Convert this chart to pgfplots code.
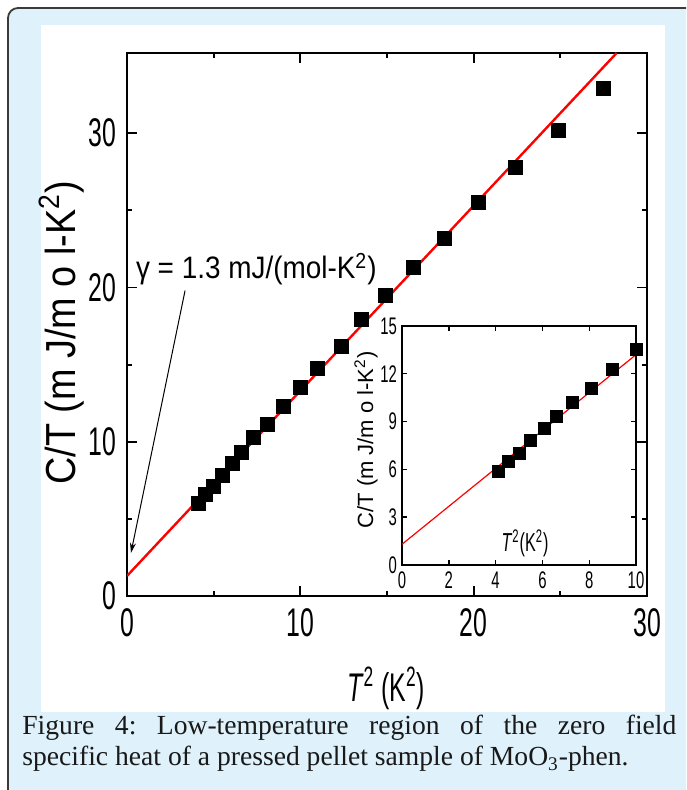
\documentclass[border=0pt]{standalone}
\usepackage{fontspec}
\setmainfont{Liberation Sans}
\newfontfamily\nar[FakeStretch=0.62]{Liberation Sans}
\newfontfamily\semi[FakeStretch=0.9]{Liberation Sans}
\newfontfamily\capfont{Liberation Serif}
\usepackage{pgfplots}
\pgfplotsset{compat=1.18}
\usetikzlibrary{arrows.meta}
\definecolor{panelblue}{HTML}{DFF1FA}
\definecolor{framegray}{HTML}{3A3A3A}
\definecolor{fitred}{HTML}{FF0000}

\begin{document}
\begin{tikzpicture}
\useasboundingbox (0,0) rectangle (343pt,395pt);
\begin{scope}
  \clip (0,0) rectangle (343pt,395pt);
  \draw[framegray, line width=0.9pt, fill=panelblue, rounded corners=5pt]
    (4pt,-10pt) rectangle (355pt,391pt);
\end{scope}
\fill[white] (20.5pt,39pt) rectangle (332.5pt,382.5pt);

% main plot
\begin{axis}[
  at={(63.5pt,97pt)}, anchor=south west,
  width=260pt, height=271.5pt, scale only axis,
  xmin=0, xmax=30, ymin=0, ymax=35.2,
  xtick={0,10,20,30}, ytick={0,10,20,30},
  minor xtick={5,15,25}, minor ytick={5,15,25},
  tick align=inside, major tick length=5pt, minor tick length=2.5pt,
  axis line style={line width=1pt},
  every tick/.style={black, line width=0.9pt},
  /pgf/number format/assume math mode=true,
  ticklabel style={font=\nar\fontsize{20}{20}\selectfont},
  xticklabel style={yshift=-3pt},
  yticklabel style={xshift=-2pt},
]
\addplot[fitred, line width=1.2pt] coordinates {(0,1.3) (28.25,35.2)};
\addplot[only marks, mark=square*, mark size=3.5pt, black] coordinates {
  (4.1,6.0) (4.55,6.6) (5.0,7.1) (5.5,7.8) (6.1,8.6) (6.6,9.3)
  (7.3,10.3) (8.1,11.1) (9.0,12.3) (10.0,13.5) (11.0,14.75) (12.35,16.2)
  (13.55,17.9) (14.9,19.5) (16.5,21.3) (18.3,23.2) (20.3,25.5)
  (22.4,27.8) (24.9,30.2) (27.5,32.9)
};
\draw[line width=0.5pt, -{Stealth[length=5pt,width=3pt]}]
  (axis cs:3.35,19.8) -- (axis cs:0.23,2.8);
\node[anchor=west, inner sep=0, font=\semi\fontsize{15.5}{15.5}\selectfont]
  at (axis cs:0.5,21.2) {γ = 1.3 mJ/(mol-K\textsuperscript{2})};
\end{axis}

% inset
\begin{axis}[
  at={(201pt,112.5pt)}, anchor=south west,
  width=117pt, height=119.5pt, scale only axis,
  xmin=0, xmax=10, ymin=0, ymax=15,
  xtick={0,2,4,6,8,10}, ytick={0,3,6,9,12,15},
  tick align=inside, major tick length=2.5pt,
  axis background/.style={fill=white},
  axis line style={line width=0.8pt},
  every tick/.style={black, line width=0.7pt},
  /pgf/number format/assume math mode=true,
  ticklabel style={font=\nar\fontsize{12}{12}\selectfont},
  xticklabel style={yshift=0pt},
  yticklabel style={xshift=1pt},
]
\addplot[fitred, line width=0.6pt] coordinates {(0,1.3) (10,13.2)};
\addplot[only marks, mark=square*, mark size=3pt, black] coordinates {
  (4.1,5.9) (4.55,6.5) (5.0,7.0) (5.5,7.8) (6.1,8.6) (6.6,9.3)
  (7.3,10.2) (8.1,11.1) (9.0,12.3) (10.0,13.5)
};
\end{axis}

% axis titles
\node[rotate=90, anchor=base, inner sep=0, font=\semi\fontsize{21}{21}\selectfont]
  at (37.5pt,228.5pt) {C/T (m J/m o l-K\textsuperscript{2})};
\node[font=\nar\fontsize{20}{20}\selectfont]
  at (193pt,51pt) {\textit{T}\textsuperscript{2} (K\textsuperscript{2})};
\node[rotate=90, font=\fontsize{11}{11}\selectfont]
  at (183pt,175pt) {C/T (m J/m o l-K\textsuperscript{2})};
\node[font=\nar\fontsize{13}{13}\selectfont]
  at (262.5pt,123.5pt) {\textit{T}\textsuperscript{2}(K\textsuperscript{2})};

% caption
\node[anchor=north west, inner sep=0, text width=327pt, align=justify,
  font=\capfont\fontsize{13.8}{15.5}\selectfont\frenchspacing, text=black!90]
  at (11pt,37.5pt) {Figure 4: Low-temperature region of the zero field\linebreak
  specific heat of a pressed pellet sample of MoO\textsubscript{3}-phen.};
\end{tikzpicture}
\end{document}
